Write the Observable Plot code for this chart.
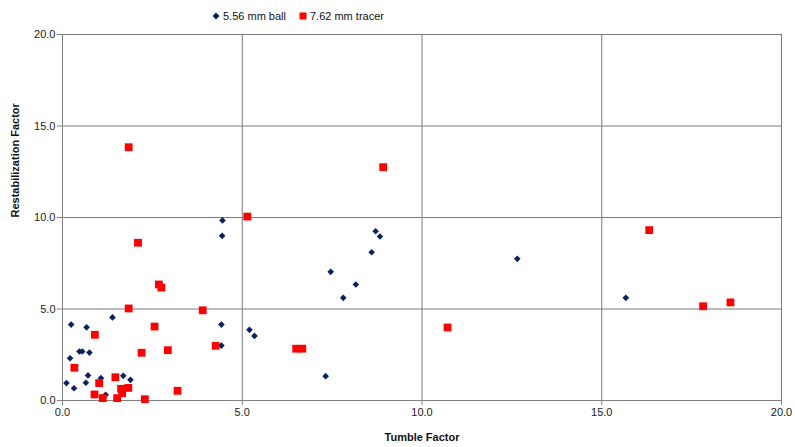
<!DOCTYPE html>
<html>
<head>
<meta charset="utf-8">
<script src="https://cdn.jsdelivr.net/npm/d3@7"></script>
<script src="https://cdn.jsdelivr.net/npm/@observablehq/plot@0.6"></script>
<style>
  body { margin: 0; background: #fff; font-family: "Liberation Sans", Arial, sans-serif; }
  #wrap { position: relative; width: 795px; height: 447px; }
  #legend { position: absolute; top: 10px; left: 212px; font-size: 11px; color: #111; display: flex; gap: 13px; align-items: center; white-space: nowrap; }
  #legend span.item { display: flex; align-items: center; gap: 3px; }
  #chart { position: absolute; top: 24px; left: 0; }
</style>
</head>
<body>
<div id="wrap">
  <div id="legend"></div>
  <div id="chart"></div>
</div>
<script>
const seriesNames = ["5.56 mm ball", "7.62 mm tracer"];
const seriesColors = ["#0b2260", "#ff0000"];

const ballTumble = [0.11, 0.21, 0.24, 0.32, 0.47, 0.55, 0.75, 0.67, 0.71, 0.65, 1.07, 1.2, 1.39, 1.69, 1.89,
  4.42, 4.42, 4.45, 4.44, 5.2, 5.34, 7.32, 7.46, 7.81, 8.16, 8.6, 8.71, 8.83, 12.65, 15.67];
const ballRestab = [0.95, 2.31, 4.15, 0.67, 2.68, 2.68, 2.62, 4.0, 1.37, 0.97, 1.22, 0.31, 4.54, 1.35, 1.13,
  4.15, 3.0, 9.84, 9.0, 3.86, 3.53, 1.33, 7.03, 5.61, 6.34, 8.1, 9.25, 8.96, 7.74, 5.61];

const tracerTumble = [0.33, 0.9, 1.02, 0.89, 1.12, 1.47, 1.52, 1.63, 1.66, 1.83, 1.84, 2.2, 2.29, 2.56, 2.68,
  2.75, 2.93, 3.2, 3.9, 4.26, 2.1, 5.14, 1.84, 6.5, 6.67, 8.92, 10.71, 16.32, 17.82, 18.58];
const tracerRestab = [1.79, 3.59, 0.95, 0.33, 0.13, 1.27, 0.13, 0.64, 0.4, 0.69, 5.03, 2.61, 0.07, 4.04, 6.34,
  6.17, 2.75, 0.53, 4.93, 2.99, 8.62, 10.05, 13.84, 2.83, 2.83, 12.75, 3.99, 9.31, 5.15, 5.36];

const ticks = [0, 5, 10, 15, 20];

const ball = ballTumble.map((x, i) => ({x, y: ballRestab[i]}));
const tracer = tracerTumble.map((x, i) => ({x, y: tracerRestab[i]}));

// legend
const legend = document.getElementById("legend");
legend.innerHTML =
  `<span class="item"><svg width="8" height="8"><path d="M4,0.5L7.5,4L4,7.5L0.5,4Z" fill="${seriesColors[0]}"/></svg>${seriesNames[0]}</span>` +
  `<span class="item"><svg width="8" height="8"><rect x="0.5" y="0.5" width="7" height="7" fill="${seriesColors[1]}"/></svg>${seriesNames[1]}</span>`;

const fmt = d3.format(".1f");

const chart = Plot.plot({
  width: 795,
  height: 423,
  marginLeft: 62,
  marginRight: 14,
  marginTop: 10,
  marginBottom: 47,
  style: {fontFamily: "Liberation Sans, Arial, sans-serif", fontSize: "11px", color: "#222", background: "#fff"},
  x: {domain: [0, 20], ticks: ticks, tickFormat: fmt},
  y: {domain: [0, 20], ticks: ticks, tickFormat: fmt},
  marks: [
    Plot.gridX(ticks, {stroke: "#7a7a7a", strokeOpacity: 1}),
    Plot.gridY(ticks, {stroke: "#7a7a7a", strokeOpacity: 1}),
    Plot.ruleX([0], {stroke: "#808080"}),
    Plot.ruleY([0], {stroke: "#808080"}),
    Plot.axisX({ticks: ticks, tickFormat: fmt, tickSize: 5, tickPadding: 3, stroke: "#808080", label: null}),
    Plot.axisY({ticks: ticks, tickFormat: fmt, tickSize: 5, tickPadding: 2, stroke: "#808080", label: null}),
    Plot.dot(ball, {x: "x", y: "y", symbol: "diamond2", r: 3, fill: seriesColors[0], stroke: null}),
    Plot.dot(tracer, {x: "x", y: "y", symbol: "square", r: 4.4, fill: seriesColors[1], stroke: null}),
    Plot.text(["Tumble Factor"], {frameAnchor: "bottom", dy: 40, fontWeight: "bold", fontSize: 11, fill: "#111"}),
    Plot.text(["Restabilization Factor"], {frameAnchor: "left", dx: -47, rotate: -90, fontWeight: "bold", fontSize: 11, fill: "#111"})
  ]
});
document.getElementById("chart").appendChild(chart);
</script>
</body>
</html>
